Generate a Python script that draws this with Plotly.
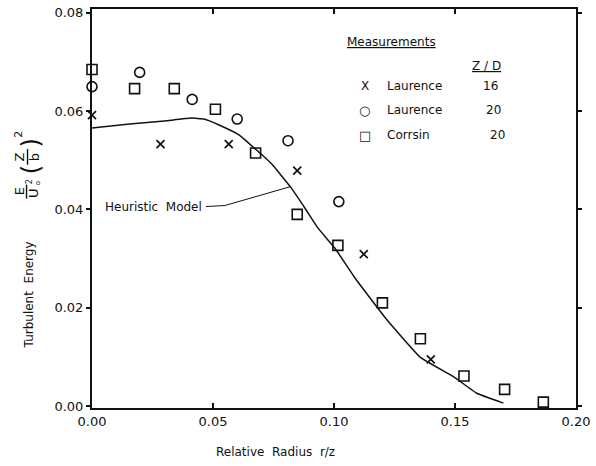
import plotly.graph_objects as go

# ---------------- data ----------------
lau16_x = [0.000, 0.0283, 0.0565, 0.0848, 0.1123, 0.1400]
lau16_y = [0.0592, 0.0533, 0.0533, 0.0479, 0.0309, 0.0095]

lau20_x = [0.000, 0.0197, 0.0414, 0.0600, 0.0810, 0.1020]
lau20_y = [0.0650, 0.0679, 0.0624, 0.0584, 0.0540, 0.0416]

cor20_x = [0.000, 0.0176, 0.0340, 0.0510, 0.0676, 0.0848, 0.1016,
           0.1200, 0.1357, 0.1537, 0.1705, 0.1865]
cor20_y = [0.0685, 0.0646, 0.0646, 0.0604, 0.0515, 0.0390, 0.0327,
           0.0210, 0.0137, 0.0061, 0.0034, 0.0008]

model_x = [0.000, 0.0156, 0.0299, 0.0410, 0.0463, 0.0525, 0.0607, 0.0680,
           0.0742, 0.0820, 0.0881, 0.0934, 0.1004, 0.1086, 0.1127, 0.1221,
           0.1357, 0.1496, 0.1590, 0.1700]
model_y = [0.0566, 0.0574, 0.0580, 0.0586, 0.0584, 0.0572, 0.0552, 0.0521,
           0.0493, 0.0446, 0.0402, 0.0362, 0.0321, 0.0261, 0.0234, 0.0174,
           0.0099, 0.0059, 0.0026, 0.0006]

x_ticks = [0.00, 0.05, 0.10, 0.15, 0.20]
y_ticks = [0.00, 0.02, 0.04, 0.06, 0.08]

legend_names = ["Laurence", "Laurence", "Corrsin"]
legend_zd = ["16", "20", "20"]
legend_glyphs = ["X", "\u25CB", "\u25A1"]

# ---------------- layout helpers ----------------
W, H = 596, 466
L, R, T, B = 92, 16, 6, 58
PW, PH = W - L - R, H - T - B
FONT = "DejaVu Sans"
INK = "#111111"


def P(px, py):
    return (px - L) / PW, (H - B - py) / PH


fig = go.Figure()

fig.add_trace(go.Scatter(x=model_x, y=model_y, mode="lines",
                         line=dict(color=INK, width=1.5, shape="spline",
                                   smoothing=0.3),
                         cliponaxis=False,
                         name="Heuristic Model", showlegend=False))
fig.add_trace(go.Scatter(x=lau16_x, y=lau16_y, mode="markers", cliponaxis=False,
                         marker=dict(symbol="x-thin-open", size=8, color=INK,
                                     line=dict(color=INK, width=1.7)),
                         name="Laurence 16", showlegend=False))
fig.add_trace(go.Scatter(x=lau20_x, y=lau20_y, mode="markers", cliponaxis=False,
                         marker=dict(symbol="circle-open", size=10, color=INK,
                                     line=dict(color=INK, width=1.6)),
                         name="Laurence 20", showlegend=False))
fig.add_trace(go.Scatter(x=cor20_x, y=cor20_y, mode="markers", cliponaxis=False,
                         marker=dict(symbol="square-open", size=10, color=INK,
                                     line=dict(color=INK, width=1.6)),
                         name="Corrsin 20", showlegend=False))

annotations = []


def ann(text, px, py, size=13, angle=0, xanchor="center", yanchor="middle"):
    ax_, ay_ = P(px, py)
    annotations.append(dict(text=text, x=ax_, y=ay_, xref="paper", yref="paper",
                            showarrow=False, textangle=angle,
                            xanchor=xanchor, yanchor=yanchor,
                            font=dict(family=FONT, size=size, color=INK)))


# axis titles
ann("Relative\u00a0 Radius\u00a0 r/z", 277, 452, size=12)
ann("Turbulent\u00a0 Energy", 28, 294, size=12, angle=-90)

# fraction E/U0^2 (Z/b)^2 , rotated
ann("E", 19, 190, size=13, angle=-90)
ann("U", 33, 191, size=13, angle=-90)
ann("2", 29, 180, size=8, angle=-90)
ann("o", 37, 181, size=7, angle=-90)
ann("(", 30, 168, size=24, angle=-90)
ann("Z", 19, 155, size=13, angle=-90)
ann("b", 34, 155, size=13, angle=-90)
ann(")", 30, 141, size=24, angle=-90)
ann("2", 17, 132, size=11, angle=-90)

# legend block
ann("<u>Measurements</u>", 394, 39, size=12)
ann("<u>Z / D</u>", 490, 63, size=12)
rows_y = [84, 108, 133]
zd_x = [494, 497, 501]
for g, nm, zd, ry, zx in zip(legend_glyphs, legend_names, legend_zd, rows_y, zd_x):
    ann(g, 367, ry, size=12 if g == "X" else 13)
    ann(nm, 387, ry, size=12, xanchor="left")
    ann(zd, zx, ry, size=12)

# heuristic model label
ann("Heuristic\u00a0 Model", 205, 205, size=12, xanchor="right")

shapes = []


def pline(p1, p2, w=1.2):
    x0, y0 = P(*p1)
    x1, y1 = P(*p2)
    shapes.append(dict(type="line", xref="paper", yref="paper",
                       x0=x0, y0=y0, x1=x1, y1=y1,
                       line=dict(color=INK, width=w)))


# fraction bars
pline((26, 183), (26, 197), 1.4)
pline((27, 147), (27, 163), 1.4)
# leader line from label to curve
pline((207, 205), (226, 204), 1)
pline((226, 204), (292, 185), 1)

fig.update_layout(
    width=W, height=H,
    margin=dict(l=L, r=R, t=T, b=B),
    paper_bgcolor="white", plot_bgcolor="white",
    showlegend=False,
    annotations=annotations, shapes=shapes,
    font=dict(family=FONT, size=13, color=INK),
)
fig.update_xaxes(range=[0, 0.2], tickvals=x_ticks, tickformat=".2f",
                 showgrid=False, zeroline=False,
                 showline=True, linecolor=INK, linewidth=2, mirror="ticks",
                 ticks="inside", ticklen=5, tickwidth=1.5, tickcolor=INK,
                 tickfont=dict(family=FONT, size=13, color=INK))
fig.update_yaxes(range=[-0.0004, 0.0808], tickvals=y_ticks, tickformat=".2f",
                 showgrid=False, zeroline=False,
                 showline=True, linecolor=INK, linewidth=2, mirror="ticks",
                 ticks="outside", ticklen=4, tickwidth=1.5, tickcolor=INK,
                 tickfont=dict(family=FONT, size=13, color=INK))

fig.write_html("out.html")
